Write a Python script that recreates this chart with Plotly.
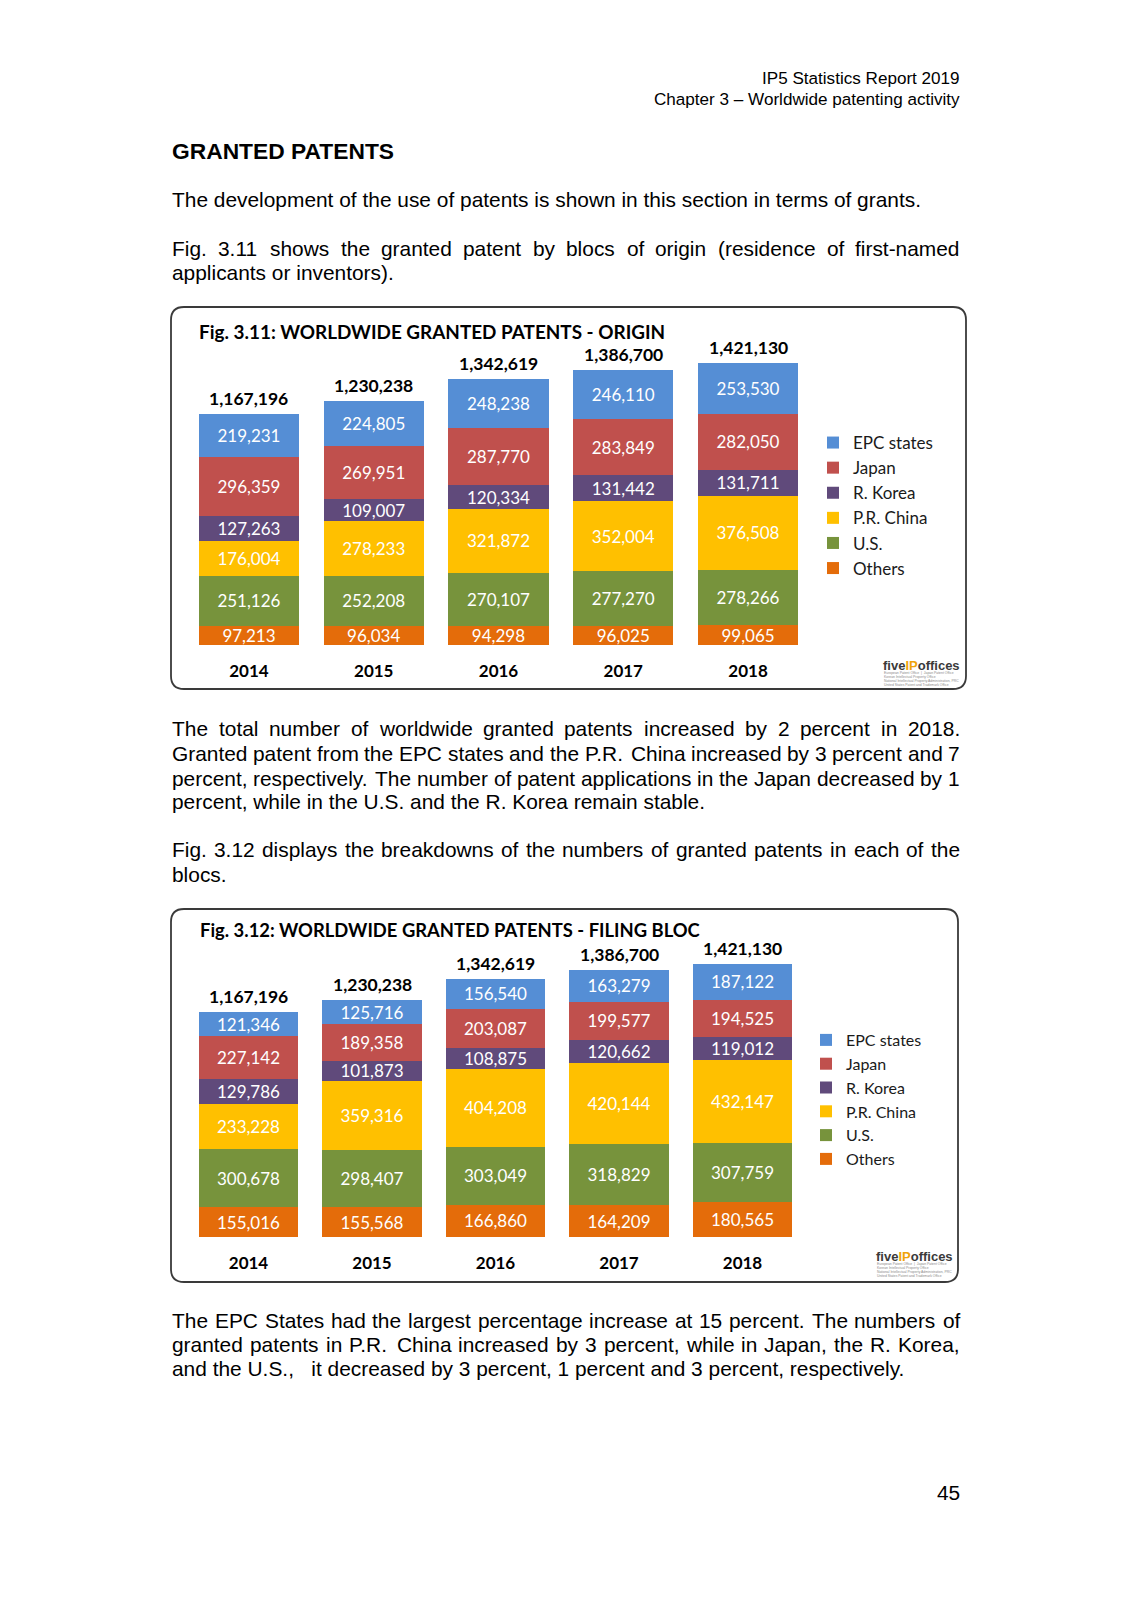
import plotly.graph_objects as go

# ---------------- data ----------------
years = ["2014", "2015", "2016", "2017", "2018"]
series_names = ["EPC states", "Japan", "R. Korea", "P.R. China", "U.S.", "Others"]
series_colors = ["#558ED5", "#C0504D", "#604A7B", "#FFC000", "#77933C", "#E46C0A"]

# Fig 3.11 - origin
origin_epc = [219231, 224805, 248238, 246110, 253530]
origin_japan = [296359, 269951, 287770, 283849, 282050]
origin_korea = [127263, 109007, 120334, 131442, 131711]
origin_china = [176004, 278233, 321872, 352004, 376508]
origin_us = [251126, 252208, 270107, 277270, 278266]
origin_others = [97213, 96034, 94298, 96025, 99065]
origin_totals = [1167196, 1230238, 1342619, 1386700, 1421130]

# Fig 3.12 - filing bloc
filing_epc = [121346, 125716, 156540, 163279, 187122]
filing_japan = [227142, 189358, 203087, 199577, 194525]
filing_korea = [129786, 101873, 108875, 120662, 119012]
filing_china = [233228, 359316, 404208, 420144, 432147]
filing_us = [300678, 298407, 303049, 318829, 307759]
filing_others = [155016, 155568, 166860, 164209, 180565]
filing_totals = [1167196, 1230238, 1342619, 1386700, 1421130]

title_1 = "Fig. 3.11: WORLDWIDE GRANTED PATENTS - ORIGIN"
title_2 = "Fig. 3.12: WORLDWIDE GRANTED PATENTS - FILING BLOC"

# ---------------- page geometry ----------------
W, H = 1131, 1600
LEFT, RIGHT = 172, 960
BODY = 20.9
BODY_FONT = "Liberation Sans, Arial, sans-serif"
CHART_FONT = "Lato, Calibri, sans-serif"


def px(x):
    return x / W


def py(y):
    return 1 - y / H


# Arial / Liberation Sans advance widths (per 1000 em)
AW = {" ": 278, ".": 278, ",": 278, "(": 333, ")": 333, "-": 333, "\u2013": 556, ":": 278}
for c in "0123456789":
    AW[c] = 556
AW.update(dict(zip("abcdefghijklmnopqrstuvwxyz",
                   [556, 556, 500, 556, 556, 278, 556, 556, 222, 222, 500, 222, 833,
                    556, 556, 556, 556, 333, 500, 278, 556, 500, 722, 500, 500, 500])))
AW.update(dict(zip("ABCDEFGHIJKLMNOPQRSTUVWXYZ",
                   [667, 667, 722, 722, 667, 611, 778, 722, 278, 500, 667, 556, 833,
                    722, 778, 667, 778, 722, 667, 611, 722, 667, 944, 667, 667, 611])))


def text_width(s, size):
    return sum(AW.get(c, 556) for c in s) / 1000.0 * size


annotations = []


def add_text(text, x, y, size=BODY, anchor="left", bold=False, family=BODY_FONT, color="#000000"):
    annotations.append(dict(
        text=("<b>%s</b>" % text) if bold else text,
        x=px(x), y=py(y), xref="paper", yref="paper", xanchor=anchor, yanchor="middle",
        showarrow=False, borderpad=0, borderwidth=0,
        font=dict(family=family, size=size, color=color)))


def add_line(text, y, justify):
    if not justify:
        add_text(text, LEFT, y)
        return
    words = text.split(" ")
    widths = [text_width(w_, BODY) for w_ in words]
    gap = (RIGHT - LEFT - sum(widths)) / (len(words) - 1)
    x = LEFT
    for w_, wd in zip(words, widths):
        add_text(w_, x, y)
        x += wd + gap


# header
add_text("IP5 Statistics Report 2019", RIGHT, 79, size=17.1, anchor="right")
add_text("Chapter 3 \u2013 Worldwide patenting activity", RIGHT, 99, size=17.1, anchor="right")
add_text("GRANTED PATENTS", LEFT, 151, size=22.8, bold=True)

add_line("The development of the use of patents is shown in this section in terms of grants.", 199, False)
add_line("Fig. 3.11 shows the granted patent by blocs of origin (residence of first-named", 248, True)
add_line("applicants or inventors).", 272.5, False)

add_line("The total number of worldwide granted patents increased by 2 percent in 2018.", 729, True)
add_line("Granted patent from the EPC states and the P.R. China increased by 3 percent and 7", 753.5, True)
add_line("percent, respectively. The number of patent applications in the Japan decreased by 1", 778, True)
add_line("percent, while in the U.S. and the R. Korea remain stable.", 801.5, False)

add_line("Fig. 3.12 displays the breakdowns of the numbers of granted patents in each of the", 849.5, True)
add_line("blocs.", 874, False)

add_line("The EPC States had the largest percentage increase at 15 percent. The numbers of", 1320, True)
add_line("granted patents in P.R. China increased by 3 percent, while in Japan, the R. Korea,", 1344.5, True)
add_line("and the U.S.,   it decreased by 3 percent, 1 percent and 3 percent, respectively.", 1368, False)

add_text("45", RIGHT, 1492, anchor="right")

# chart titles
add_text(title_1, 199, 331, size=18.9, bold=True, family=CHART_FONT)
add_text(title_2, 200, 930, size=18.4, bold=True, family=CHART_FONT)

# logos
logo_lines = ["European Patent Office  |  Japan Patent Office",
              "Korean Intellectual Property Office",
              "National Intellectual Property Administration, PRC",
              "United States Patent and Trademark Office"]


def add_logo(xr, yc):
    annotations.append(dict(
        text="<b>five<span style='color:#F0A30A'>IP</span>offices</b>",
        x=px(xr), y=py(yc), xref="paper", yref="paper", xanchor="right", yanchor="middle",
        showarrow=False, borderpad=0, borderwidth=0,
        font=dict(family=BODY_FONT, size=13, color="#3A3A3A")))
    for k, t in enumerate(logo_lines):
        annotations.append(dict(
            text=t, x=px(xr - 76), y=py(yc + 8 + 4 * k), xref="paper", yref="paper",
            xanchor="left", yanchor="middle", showarrow=False, borderpad=0, borderwidth=0,
            font=dict(family=BODY_FONT, size=3.4, color="#8A8A8A")))


add_logo(960, 665)
add_logo(953, 1256)

# ---------------- bars ----------------
fig = go.Figure()
origin_series = [origin_epc, origin_japan, origin_korea, origin_china, origin_us, origin_others]
filing_series = [filing_epc, filing_japan, filing_korea, filing_china, filing_us, filing_others]

for data, xa, ya, lg in [(origin_series, "x", "y", "legend"), (filing_series, "x2", "y2", "legend2")]:
    for name, vals, col in reversed(list(zip(series_names, data, series_colors))):
        fig.add_trace(go.Bar(
            x=years, y=vals, name=name, xaxis=xa, yaxis=ya, legend=lg,
            marker=dict(color=col, line=dict(width=0)),
            texttemplate="%{y:,}", textposition="inside", insidetextanchor="middle",
            textangle=0, constraintext="none",
            textfont=dict(family=CHART_FONT, size=17, color="#FFFFFF"),
            hoverinfo="skip"))

for totals, xa, ya in [(origin_totals, "x", "y"), (filing_totals, "x2", "y2")]:
    for i, t in enumerate(totals):
        annotations.append(dict(
            text="<b>{:,}</b>".format(t), x=i, y=t, xref=xa, yref=ya,
            xanchor="center", yanchor="bottom", yshift=5, showarrow=False,
            borderpad=0, borderwidth=0,
            font=dict(family=CHART_FONT, size=17.5, color="#000000")))


def rrect(x0, y0, x1, y1, r):
    X0, X1, Y0, Y1 = px(x0), px(x1), py(y0), py(y1)
    rx, ry = r / W, r / H
    return (f"M{X0+rx},{Y0} L{X1-rx},{Y0} Q{X1},{Y0} {X1},{Y0-ry} "
            f"L{X1},{Y1+ry} Q{X1},{Y1} {X1-rx},{Y1} L{X0+rx},{Y1} "
            f"Q{X0},{Y1} {X0},{Y1+ry} L{X0},{Y0-ry} Q{X0},{Y0} {X0+rx},{Y0} Z")


shapes = [
    dict(type="path", xref="paper", yref="paper", path=rrect(171, 307, 966, 689, 13),
         line=dict(color="#3A3A3A", width=1.8), fillcolor="rgba(0,0,0,0)", layer="below"),
    dict(type="path", xref="paper", yref="paper", path=rrect(171, 909, 958, 1282, 13),
         line=dict(color="#3A3A3A", width=1.8), fillcolor="rgba(0,0,0,0)", layer="below"),
]

xaxis_common = dict(type="category", range=[-0.5, len(years) - 0.5], autorange=False,
                    showgrid=False, zeroline=False, showline=False, ticks="",
                    tickfont=dict(family=CHART_FONT, size=17, color="#000000", weight="bold"),
                    ticklabelstandoff=14, fixedrange=True)
yaxis_common = dict(visible=False, showgrid=False, zeroline=False, fixedrange=True, autorange=False)

legend_common = dict(xanchor="left", yanchor="top", traceorder="reversed",
                     bgcolor="rgba(0,0,0,0)", borderwidth=0, itemclick=False, itemdoubleclick=False)

fig.update_layout(
    width=W, height=H, margin=dict(l=0, r=0, t=0, b=0, autoexpand=False),
    paper_bgcolor="#FFFFFF", plot_bgcolor="#FFFFFF",
    barmode="stack", bargap=0.198, showlegend=True,
    xaxis=dict(domain=[px(186.6), px(810.4)], anchor="y", **xaxis_common),
    yaxis=dict(domain=[py(645), py(345)], range=[0, 300 / 1.9817e-4], anchor="x", **yaxis_common),
    xaxis2=dict(domain=[px(186.75), px(804.25)], anchor="y2", **xaxis_common),
    yaxis2=dict(domain=[py(1237), py(937)], range=[0, 300 / 1.924e-4], anchor="x2", **yaxis_common),
    legend=dict(x=px(813), y=py(425), font=dict(family=CHART_FONT, size=17, color="#1A1A1A"),
                **legend_common),
    legend2=dict(x=px(806), y=py(1023), font=dict(family=CHART_FONT, size=16, color="#1A1A1A"),
                 **legend_common),
    annotations=annotations,
    shapes=shapes,
)

fig.write_html("out.html", config={"displayModeBar": False, "staticPlot": True},
               post_script="document.body.style.margin='0';document.body.style.padding='0';")
